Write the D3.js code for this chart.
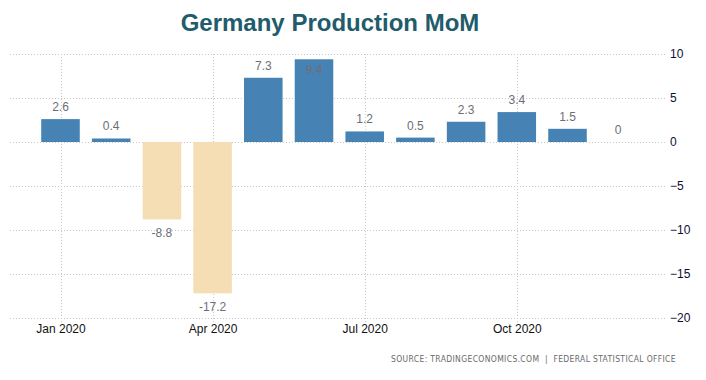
<!DOCTYPE html>
<html><head><meta charset="utf-8">
<script src="https://cdn.jsdelivr.net/npm/d3@7"></script>
<style>body{margin:0;background:#fff}svg{display:block}</style>
</head><body>
<svg id="c" width="706" height="380"></svg>
<script>
const months = ["2020-01","2020-02","2020-03","2020-04","2020-05","2020-06","2020-07","2020-08","2020-09","2020-10","2020-11","2020-12"];
const values = [2.6, 0.4, -8.8, -17.2, 7.3, 9.4, 1.2, 0.5, 2.3, 3.4, 1.5, 0];
const labels = ["2.6","0.4","-8.8","-17.2","7.3","9.4","1.2","0.5","2.3","3.4","1.5","0"];
const xTickMonths = ["2020-01","2020-04","2020-07","2020-10"];
const xTickLabels = ["Jan 2020","Apr 2020","Jul 2020","Oct 2020"];
const yTicks = [10, 5, 0, -5, -10, -15, -20];
const title = "Germany Production MoM";
const source = "SOURCE: TRADINGECONOMICS.COM  |  FEDERAL STATISTICAL OFFICE";

const svg = d3.select("#c");
const x = d3.scaleBand().domain(months).range([35.15, 643.55]).paddingInner(0.24).paddingOuter(0.12);
const y = d3.scaleLinear().domain([-20, 10]).range([318, 54]);
const left = 10, right = 667;

svg.append("text").attr("x", 330).attr("y", 31).attr("text-anchor", "middle")
  .attr("font-family", "Liberation Sans, Arial, sans-serif").attr("font-weight", "bold")
  .attr("font-size", 24).attr("fill", "#225b6b").text(title);

// horizontal grid
const yAxis = d3.axisRight(y).tickValues(yTicks).tickSize(0).tickFormat(d3.format("d"));
const gy = svg.append("g").attr("transform", `translate(${right},0)`).call(yAxis);
gy.select(".domain").remove();
gy.selectAll("text").attr("x", 3).attr("font-family", "Liberation Sans, Arial, sans-serif")
  .attr("font-size", 12).attr("fill", "#0d0d33");
svg.append("g").selectAll("line").data(yTicks).join("line")
  .attr("x1", left).attr("x2", right).attr("y1", d => Math.round(y(d)) + 0.5).attr("y2", d => Math.round(y(d)) + 0.5)
  .attr("stroke", "#c8c8c8").attr("stroke-dasharray", "1,2");

// vertical grid + x axis labels
const xPos = m => x(m) + x.bandwidth() / 2;
svg.append("g").selectAll("line").data(xTickMonths).join("line")
  .attr("x1", d => Math.round(xPos(d)) + 0.5).attr("x2", d => Math.round(xPos(d)) + 0.5)
  .attr("y1", y(10)).attr("y2", y(-20) + 4)
  .attr("stroke", "#c8c8c8").attr("stroke-dasharray", "1,2");
const xAxis = d3.axisBottom(d3.scalePoint().domain(xTickMonths).range([xPos(xTickMonths[0]), xPos(xTickMonths[3])]))
  .tickSize(0).tickFormat((d, i) => xTickLabels[i]);
const gx = svg.append("g").attr("transform", `translate(0,${y(-20) + 3})`).call(xAxis);
gx.select(".domain").remove();
gx.selectAll("text").attr("font-family", "Liberation Sans, Arial, sans-serif").attr("font-size", 12).attr("fill", "#111");

// bars
svg.append("g").selectAll("rect").data(values).join("rect")
  .attr("x", (d, i) => x(months[i])).attr("width", x.bandwidth())
  .attr("y", d => y(Math.max(0, d))).attr("height", d => Math.abs(y(d) - y(0)))
  .attr("fill", d => d < 0 ? "#f5deb3" : "#4682b4");

// value labels
svg.append("g").selectAll("text").data(values).join("text")
  .attr("x", (d, i) => xPos(months[i])).attr("text-anchor", "middle")
  .attr("y", d => {
    if (d < 0) return y(d) + 18;
    let ty = y(d) - 8;
    if (ty - 10 < y(10)) ty = y(d) + 15;
    return ty;
  })
  .attr("font-family", "Liberation Sans, Arial, sans-serif").attr("font-size", 12)
  .attr("fill", "#6e6e78").text((d, i) => labels[i]);

svg.append("text").attr("x", 676).attr("y", 362).attr("text-anchor", "end")
  .style("white-space", "pre")
  .attr("font-family", "DejaVu Sans Condensed, DejaVu Sans, sans-serif").attr("font-size", 8.5)
  .attr("fill", "#6a6a6a").attr("letter-spacing", 0.35).text(source);
</script>
</body></html>
